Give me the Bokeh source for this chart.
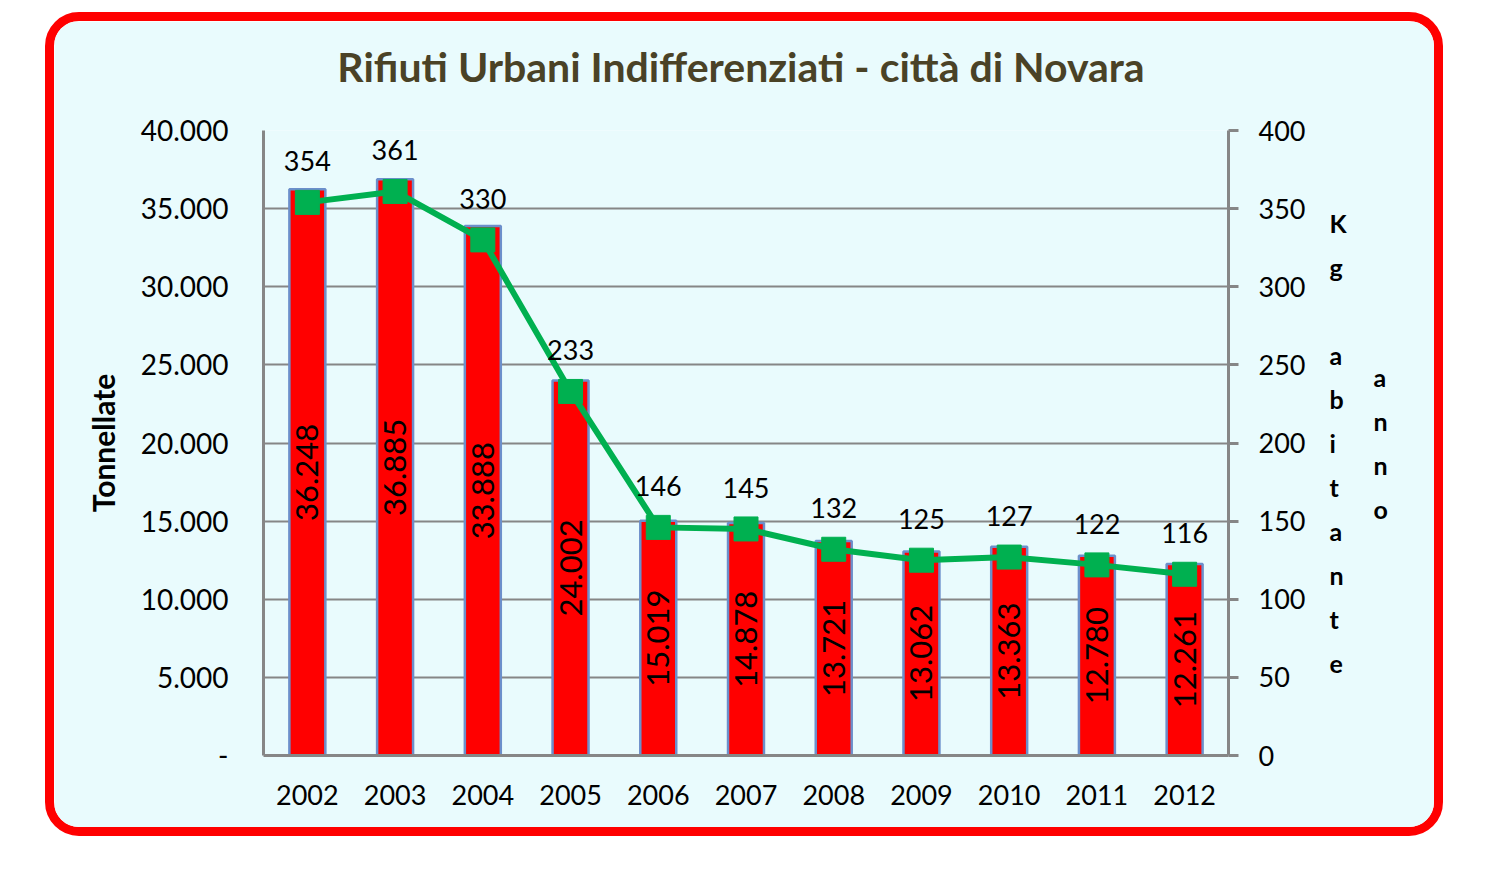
from bokeh.plotting import figure
from bokeh.models import (ColumnDataSource, FactorRange, Range1d, LinearAxis,
                          FixedTicker)
from bokeh.core.properties import value
from bokeh.embed import file_html
from bokeh.resources import INLINE

# ---- data ----
years = ["2002", "2003", "2004", "2005", "2006", "2007", "2008", "2009", "2010", "2011", "2012"]
tonnes = [36248, 36885, 33888, 24002, 15019, 14878, 13721, 13062, 13363, 12780, 12261]
kg_per_inhabitant = [354, 361, 330, 233, 146, 145, 132, 125, 127, 122, 116]
left_ticks = [0, 5000, 10000, 15000, 20000, 25000, 30000, 35000, 40000]
right_ticks = [0, 50, 100, 150, 200, 250, 300, 350, 400]
title_text = "Rifiuti  Urbani Indifferenziati - città di Novara"
left_title = "Tonnellate"
right_title_col1 = "Kg abitante"
right_title_col2 = "anno"

FONT = "Lato"
BG = "#E9FBFD"
GRAY = "#868686"

W, H = 1398, 824          # outer size including the 9px red border
ML, MR, MT, MB = 209, 224, 109, 90


def fmt_it(v):
    return "-" if v == 0 else f"{v:,}".replace(",", ".")


def bare_axis(axis):
    axis.axis_line_color = None
    axis.major_tick_out = 0
    axis.major_tick_in = 0
    axis.minor_tick_out = 0
    axis.minor_tick_in = 0
    axis.major_label_standoff = 0
    return axis


src = ColumnDataSource(dict(
    year=years,
    tons=tonnes,
    half=[t / 2 for t in tonnes],
    tons_lbl=[fmt_it(t) for t in tonnes],
    kg=kg_per_inhabitant,
    kg_lbl=[str(k) for k in kg_per_inhabitant],
))

p = figure(
    x_range=FactorRange(factors=years, range_padding=0),
    y_range=Range1d(0, 40000),
    width=W, height=H,
    output_backend="svg", toolbar_location=None,
    min_border_left=ML, min_border_right=MR,
    min_border_top=MT, min_border_bottom=MB,
    background_fill_color=BG, border_fill_color=BG,
    outline_line_color=None,
    styles={"border": "9px solid #FF0000", "border-radius": "34px",
            "overflow": "hidden", "margin": "12px 0px 0px 45px"},
)
p.extra_y_ranges = {"right": Range1d(0, 400)}

# bottom category axis (keep a reference before adding other axes)
xa = p.below[0]
xa.major_label_text_font = FONT
xa.major_label_text_font_size = "27px"
xa.major_label_text_color = "black"
xa.major_label_standoff = 29
xa.major_tick_out = 0
xa.major_tick_in = 0
xa.axis_line_color = GRAY
xa.axis_line_width = 3

# chart title (as the label of a bare axis above the frame)
ta = bare_axis(LinearAxis(ticker=FixedTicker(ticks=[])))
ta.axis_label = title_text
ta.axis_label_standoff = 40
ta.axis_label_text_font = FONT
ta.axis_label_text_font_size = "41px"
ta.axis_label_text_font_style = "bold"
ta.axis_label_text_color = "#4A4226"
p.add_layout(ta, "above")

# grid
p.xgrid.grid_line_color = None
p.ygrid.ticker = FixedTicker(ticks=left_ticks)
p.ygrid.grid_line_color = GRAY
p.ygrid.grid_line_width = 2

# left axis
ya = p.left[0]
ya.ticker = FixedTicker(ticks=left_ticks)
ya.major_label_overrides = {t: fmt_it(t) for t in left_ticks}
ya.axis_label = left_title
ya.axis_label_text_font = FONT
ya.axis_label_text_font_size = "30px"
ya.axis_label_text_font_style = "bold"
ya.axis_label_text_color = "black"
ya.axis_label_standoff = 17
ya.major_label_text_font = FONT
ya.major_label_text_font_size = "28px"
ya.major_label_text_color = "black"
ya.major_label_standoff = 35
ya.major_tick_out = 0
ya.major_tick_in = 0
ya.minor_tick_out = 0
ya.minor_tick_in = 0
ya.axis_line_color = GRAY
ya.axis_line_width = 3

# right axis
ra = LinearAxis(y_range_name="right", ticker=FixedTicker(ticks=right_ticks))
ra.major_label_overrides = {t: str(t) for t in right_ticks}
ra.major_label_text_font = FONT
ra.major_label_text_font_size = "27px"
ra.major_label_text_color = "black"
ra.major_label_standoff = 20
ra.major_tick_out = 10
ra.major_tick_in = 0
ra.major_tick_line_color = GRAY
ra.major_tick_line_width = 3
ra.minor_tick_out = 0
ra.minor_tick_in = 0
ra.axis_line_color = GRAY
ra.axis_line_width = 3
p.add_layout(ra, "right")

# right axis title: stacked letters in two columns, as labels of bare axes
for s, standoff in [(right_title_col1, 21), (right_title_col2, 24)]:
    ax = bare_axis(LinearAxis(y_range_name="right", ticker=FixedTicker(ticks=[])))
    ax.axis_label = "\n".join(s)
    ax.axis_label_orientation = "horizontal"
    ax.axis_label_standoff = standoff
    ax.axis_label_text_font = FONT
    ax.axis_label_text_font_size = "25px"
    ax.axis_label_text_font_style = "bold"
    ax.axis_label_text_color = "black"
    ax.axis_label_text_line_height = 1.467
    ax.axis_label_text_align = "center"
    p.add_layout(ax, "right")

# bars
p.vbar(x="year", top="tons", width=0.41, source=src,
       fill_color="#FF0000", line_color="#6C8FCB", line_width=2.5)
p.text(x="year", y="half", text="tons_lbl", source=src, angle=1.5707963,
       text_align="center", text_baseline="middle",
       text_font=value(FONT), text_font_size="31px", text_color="black")

# line
p.line(x="year", y="kg", source=src, y_range_name="right",
       line_color="#00B050", line_width=6)
p.scatter(x="year", y="kg", source=src, y_range_name="right", marker="square",
          size=24, fill_color="#00B050", line_color="#00B050")
p.text(x="year", y="kg", text="kg_lbl", source=src, y_range_name="right",
       y_offset=-41, text_align="center", text_baseline="middle",
       text_font=value(FONT), text_font_size="27px", text_color="black")

open("out.html", "w").write(file_html(p, INLINE))
